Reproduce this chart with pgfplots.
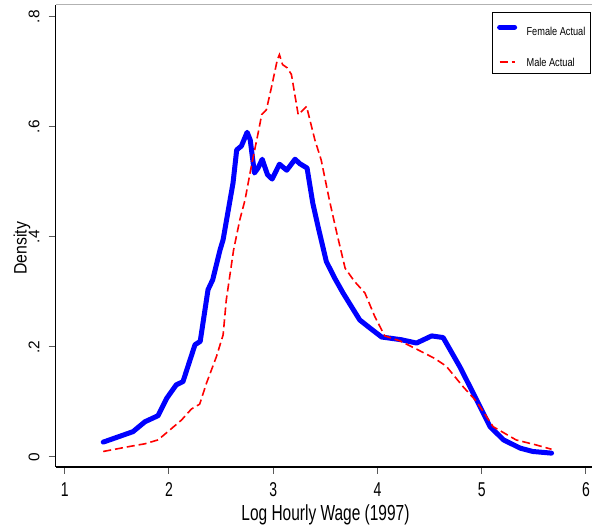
\documentclass[border=0pt]{standalone}
\usepackage{fontspec}
\setmainfont{Liberation Sans}
\newfontfamily\xtickf[FakeStretch=0.70]{Liberation Sans}
\newfontfamily\xlabf[FakeStretch=0.71]{Liberation Sans}
\newfontfamily\ylabf[FakeStretch=0.88]{Liberation Sans}
\newfontfamily\legf[FakeStretch=0.80]{Liberation Sans}
\usepackage{pgfplots}
\pgfplotsset{compat=1.18}
\begin{document}
\begin{tikzpicture}[x=1pt,y=1pt]
\path[use as bounding box] (0,0) rectangle (592,527);
\begin{axis}[
  at={(55.7pt,60pt)}, anchor=south west,
  scale only axis, width=536.3pt, height=462.3pt,
  xmin=0.914, xmax=6.058, ymin=-0.0182, ymax=0.8218,
  axis x line*=bottom, axis y line*=left,
  axis line style={black, line width=1.2pt, -},
  xtick={1,2,3,4,5,6}, ytick={0,0.2,0.4,0.6,0.8},
  xticklabels={1,2,3,4,5,6},
  yticklabels={0,.2,.4,.6,.8},
  tick align=outside, major tick length=7pt,
  tick style={gray!70!black, line width=1pt},
  xticklabel style={font=\xtickf\fontsize{20}{20}\selectfont, inner sep=0pt, anchor=north},
  xticklabel shift=8.3pt,
  yticklabel style={font=\fontsize{15.4}{15.4}\selectfont, inner sep=0pt, rotate=90, anchor=base},
  yticklabel shift=9.4pt,
  xlabel={Log Hourly Wage (1997)},
  ylabel={Density},
  every axis x label/.style={at={(axis description cs:0.503,-0.116)}, anchor=base, font=\xlabf\fontsize{21.8}{21.8}\selectfont},
  every axis y label/.style={at={(axis description cs:-0.0541,0.473)}, rotate=90, anchor=base, font=\ylabf\fontsize{18}{18}\selectfont},
  legend style={at={(0.813,0.985)}, anchor=north west, draw=black, line width=0.8pt,
    font=\legf\fontsize{11.5}{11.5}\selectfont, inner xsep=5pt, inner ysep=7.5pt,
    nodes={inner sep=0pt, text depth=0pt}, row sep=23pt, column sep=9.5pt},
  legend cell align=left,
  legend image code/.code={\draw[#1] (0pt,0pt) -- (15pt,0pt);},
  clip=false,
]
\draw[gray!60, line width=1.6pt] (rel axis cs:0,1) -- (rel axis cs:1,1);
\addplot[blue, line width=5pt, line join=round, line cap=round] coordinates {
(1.37,0.027) (1.655,0.046) (1.77,0.064) (1.895,0.075) (1.98,0.107) (2.07,0.131)
(2.135,0.137) (2.25,0.204) (2.30,0.210) (2.375,0.304) (2.42,0.322) (2.49,0.376)
(2.52,0.395) (2.615,0.498) (2.65,0.558) (2.695,0.565) (2.75,0.590) (2.78,0.576)
(2.82,0.516) (2.855,0.525) (2.895,0.541) (2.945,0.513) (2.99,0.505) (3.06,0.532)
(3.13,0.521) (3.21,0.541) (3.255,0.533) (3.325,0.525) (3.38,0.461) (3.43,0.419)
(3.51,0.355) (3.59,0.325) (3.67,0.298) (3.83,0.249) (3.93,0.234) (4.04,0.218)
(4.23,0.213) (4.375,0.207) (4.52,0.220) (4.63,0.217) (4.79,0.164) (4.935,0.110)
(5.08,0.055) (5.21,0.031) (5.37,0.016) (5.49,0.010) (5.67,0.007)
};
\addlegendentry{\rule{0pt}{15.5pt}Female Actual}
\addplot[red, line width=1.6pt, dash pattern=on 8pt off 4pt] coordinates {
(1.37,0.010) (1.62,0.019) (1.77,0.024) (1.895,0.031) (1.99,0.046) (2.12,0.067)
(2.215,0.087) (2.295,0.096) (2.36,0.134) (2.455,0.182) (2.52,0.222) (2.55,0.285)
(2.62,0.376) (2.68,0.431) (2.73,0.467) (2.79,0.528) (2.855,0.588) (2.89,0.622)
(2.935,0.631) (2.985,0.673) (3.04,0.722) (3.06,0.731) (3.09,0.713) (3.135,0.707)
(3.175,0.695) (3.24,0.622) (3.32,0.637) (3.40,0.576) (3.46,0.540) (3.54,0.466)
(3.61,0.407) (3.69,0.343) (3.78,0.319) (3.88,0.298) (3.975,0.255) (4.07,0.220)
(4.215,0.211) (4.375,0.196) (4.55,0.179) (4.66,0.165) (4.82,0.128) (4.95,0.101)
(5.11,0.055) (5.33,0.031) (5.52,0.022) (5.67,0.014)
};
\addlegendentry{Male Actual}
\end{axis}
\end{tikzpicture}
\end{document}
